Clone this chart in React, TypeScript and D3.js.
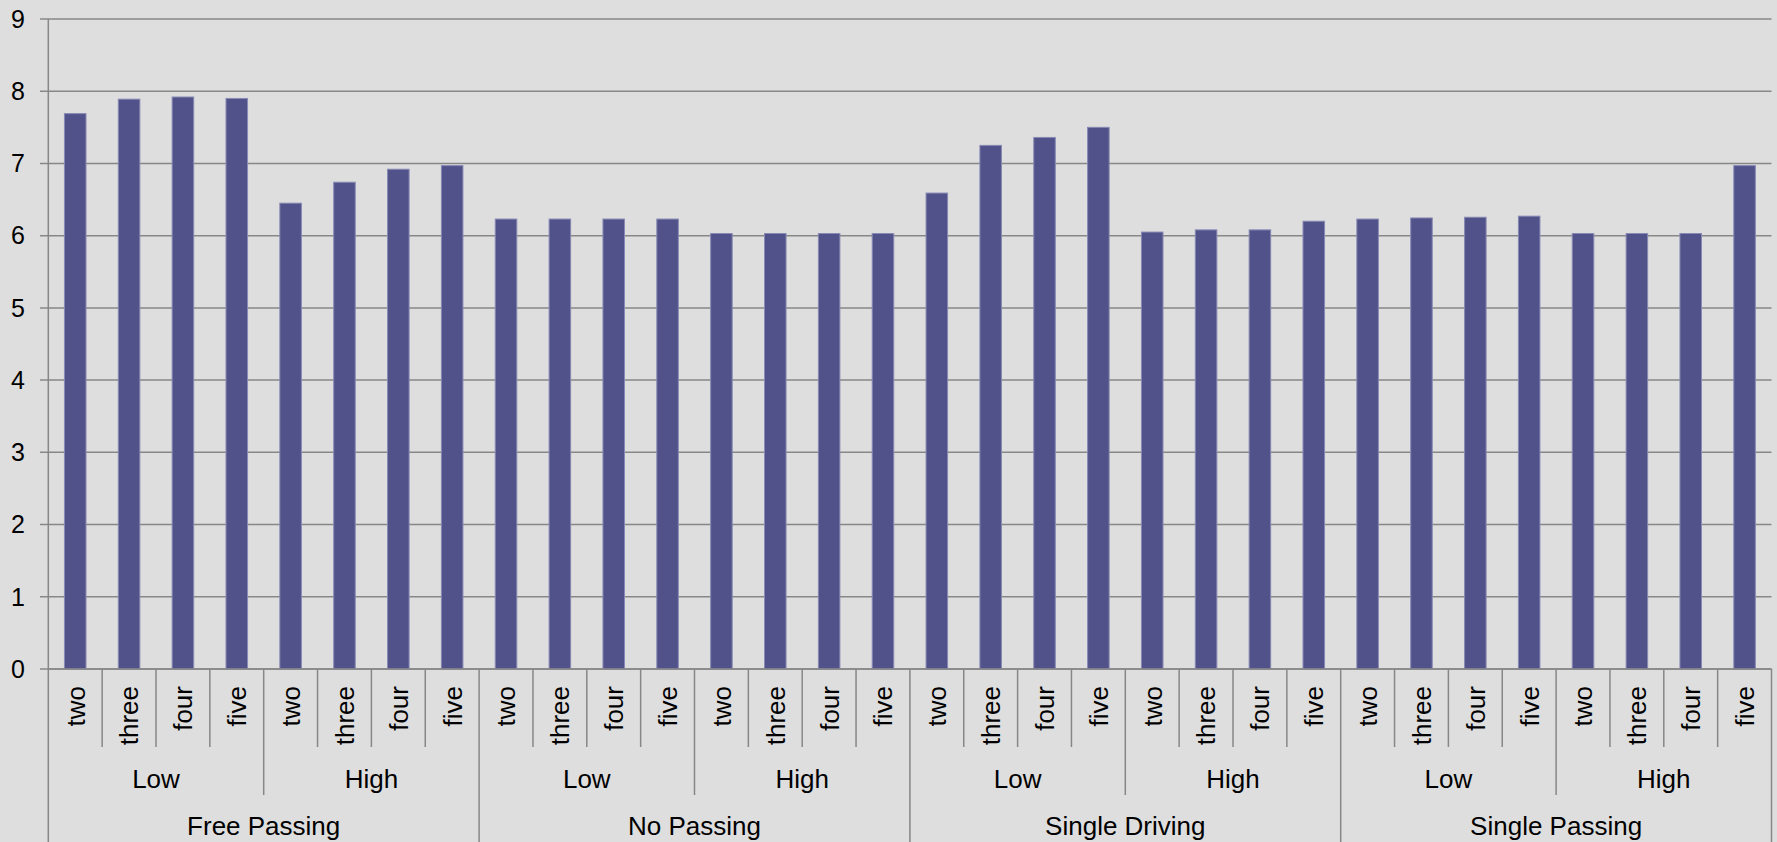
import React from "react";
import * as d3 from "d3";

const mainGroups = ["Free Passing", "No Passing", "Single Driving", "Single Passing"];
const subGroups = ["Low", "High"];
const counts = ["two", "three", "four", "five"];

const freePassing = [7.69, 7.89, 7.92, 7.9, 6.45, 6.74, 6.92, 6.97];
const noPassing = [6.23, 6.23, 6.23, 6.23, 6.03, 6.03, 6.03, 6.03];
const singleDriving = [6.59, 7.25, 7.36, 7.5, 6.05, 6.08, 6.08, 6.2];
const singlePassing = [6.23, 6.245, 6.255, 6.27, 6.03, 6.03, 6.03, 6.97];

const seriesByGroup = [freePassing, noPassing, singleDriving, singlePassing];
const yTicks = [0, 1, 2, 3, 4, 5, 6, 7, 8, 9];

const W = 1777;
const H = 842;
const left = 48.3;
const right = 1771.5;
const top = 19;
const bottom = 669;
const font = "'Liberation Sans', Arial, sans-serif";
const gridColor = "#878787";

type Row = { key: string; main: string; sub: string; count: string; value: number };

const rows: Row[] = [];
mainGroups.forEach((m, mi) => {
  subGroups.forEach((s, si) => {
    counts.forEach((c, ci) => {
      rows.push({ key: `${mi}-${si}-${ci}`, main: m, sub: s, count: c, value: seriesByGroup[mi][si * 4 + ci] });
    });
  });
});

export default function App() {
  const x = d3.scaleBand<string>().domain(rows.map((r) => r.key)).range([left, right]).padding(0);
  const y = d3.scaleLinear().domain([0, 9]).range([bottom, top]);
  const bw = x.bandwidth();
  const barW = bw * 0.4;
  const n = rows.length;

  const sepTop = bottom;
  const lvl1 = 747;
  const lvl2 = 795;

  return (
    <svg
      width={W}
      height={H}
      style={{ position: "fixed", left: 0, top: 0, background: "#dedede" }}
    >
      <rect x={0} y={0} width={W} height={H} fill="#dedede" />
      {yTicks.map((t) => (
        <g key={t}>
          <line x1={40} x2={right} y1={y(t)} y2={y(t)} stroke={gridColor} strokeWidth={1.5} />
          <text x={25} y={y(t)} dy="0.35em" textAnchor="end" fontFamily={font} fontSize={25} fill="#000">
            {t}
          </text>
        </g>
      ))}
      <line x1={left} x2={left} y1={top} y2={H} stroke={gridColor} strokeWidth={1.5} />
      {rows.map((r) => (
        <rect
          key={r.key}
          x={(x(r.key) as number) + (bw - barW) / 2}
          y={y(r.value)}
          width={barW}
          height={y(0) - y(r.value)}
          fill="#515289"
          stroke="#8889b4"
          strokeWidth={1}
        />
      ))}
      {/* separators */}
      {d3.range(1, n + 1).map((i) => {
        const xx = left + i * bw;
        const y2 = i % 8 === 0 ? H : i % 4 === 0 ? lvl2 : lvl1;
        return <line key={i} x1={xx} x2={xx} y1={sepTop} y2={y2} stroke={gridColor} strokeWidth={1.5} />;
      })}
      {rows.map((r) => {
        const cx = (x(r.key) as number) + bw / 2;
        return (
          <text
            key={"t" + r.key}
            transform={`translate(${cx},686) rotate(-90)`}
            textAnchor="end"
            dy="0.36em"
            fontFamily={font}
            fontSize={26}
            fill="#000"
          >
            {r.count}
          </text>
        );
      })}
      {mainGroups.map((m, mi) =>
        subGroups.map((s, si) => {
          const start = left + (mi * 8 + si * 4) * bw;
          return (
            <text
              key={m + s}
              x={start + 2 * bw}
              y={788}
              textAnchor="middle"
              fontFamily={font}
              fontSize={26}
              fill="#000"
            >
              {s}
            </text>
          );
        })
      )}
      {mainGroups.map((m, mi) => (
        <text
          key={m}
          x={left + (mi * 8 + 4) * bw}
          y={835}
          textAnchor="middle"
          fontFamily={font}
          fontSize={26}
          fill="#000"
        >
          {m}
        </text>
      ))}
      <line x1={left} x2={right} y1={bottom} y2={bottom} stroke={gridColor} strokeWidth={1.5} />
    </svg>
  );
}
